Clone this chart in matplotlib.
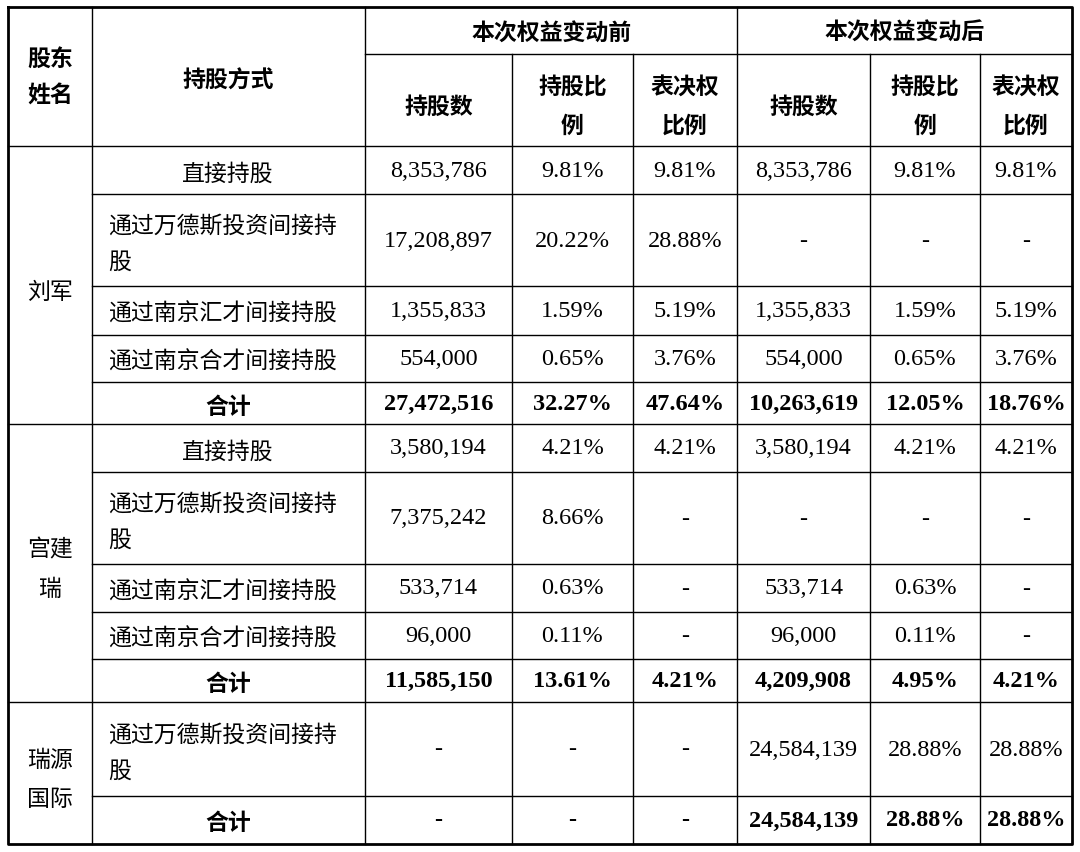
import matplotlib.pyplot as plt

plt.rcParams['font.family'] = ['Noto Sans CJK SC', 'DejaVu Sans']

W, H = 1080, 853
col_x = [8, 92, 365, 512, 633, 737, 870, 980, 1072]
head_y = [8, 55, 147]
row_y = [147, 195, 287, 336, 383, 425, 473, 565, 613, 660, 703, 797, 845]

holders = ["刘军", "宫建\n瑞", "瑞源\n国际"]
holder_rows = [(0, 5), (5, 10), (10, 12)]

methods = ["直接持股", "通过万德斯投资间接持\n股", "通过南京汇才间接持股", "通过南京合才间接持股", "合计",
           "直接持股", "通过万德斯投资间接持\n股", "通过南京汇才间接持股", "通过南京合才间接持股", "合计",
           "通过万德斯投资间接持\n股", "合计"]
before_shares = ["8,353,786", "17,208,897", "1,355,833", "554,000", "27,472,516",
                 "3,580,194", "7,375,242", "533,714", "96,000", "11,585,150", "-", "-"]
before_ratio = ["9.81%", "20.22%", "1.59%", "0.65%", "32.27%",
                "4.21%", "8.66%", "0.63%", "0.11%", "13.61%", "-", "-"]
before_vote = ["9.81%", "28.88%", "5.19%", "3.76%", "47.64%",
               "4.21%", "-", "-", "-", "4.21%", "-", "-"]
after_shares = ["8,353,786", "-", "1,355,833", "554,000", "10,263,619",
                "3,580,194", "-", "533,714", "96,000", "4,209,908", "24,584,139", "24,584,139"]
after_ratio = ["9.81%", "-", "1.59%", "0.65%", "12.05%",
               "4.21%", "-", "0.63%", "0.11%", "4.95%", "28.88%", "28.88%"]
after_vote = ["9.81%", "-", "5.19%", "3.76%", "18.76%",
              "4.21%", "-", "-", "-", "4.21%", "28.88%", "28.88%"]

fig = plt.figure(figsize=(W / 100, H / 100), dpi=100)
ax = fig.add_axes([0, 0, 1, 1])
ax.set_xlim(0, W)
ax.set_ylim(H, 0)
ax.axis('off')

thin, thick = 1.0, 2.0
L, R = col_x[0], col_x[-1]

# outer border
ax.plot([L, R, R, L, L], [head_y[0], head_y[0], row_y[-1], row_y[-1], head_y[0]], color='k', lw=thick)
# header lines
ax.plot([col_x[2], R], [head_y[1]] * 2, color='k', lw=thin)
ax.plot([L, R], [head_y[2]] * 2, color='k', lw=thin)
for x in [col_x[1], col_x[2], col_x[5]]:
    ax.plot([x, x], [head_y[0], row_y[-1]], color='k', lw=thin)
for x in [col_x[3], col_x[4], col_x[6], col_x[7]]:
    ax.plot([x, x], [head_y[1], row_y[-1]], color='k', lw=thin)
# body horizontal lines
group_breaks = {row_y[5], row_y[10]}
for y in row_y[1:-1]:
    x0 = L if y in group_breaks else col_x[1]
    ax.plot([x0, R], [y, y], color='k', lw=thin)

fs = 16.5
cjk = ['Noto Sans CJK SC', 'DejaVu Sans']
num = 'Liberation Serif'

def cx(i):
    return (col_x[i] + col_x[i + 1]) / 2

# header text
ax.text(cx(0), (head_y[0] + head_y[2]) / 2, "股东\n姓名", ha='center', va='center', fontsize=fs,
        fontweight='bold', family=cjk, linespacing=1.7)
ax.text(cx(1), (head_y[0] + head_y[2]) / 2 + 4, "持股方式", ha='center', va='center', fontsize=fs,
        fontweight='bold', family=cjk)
ax.text((col_x[2] + col_x[5]) / 2, (head_y[0] + head_y[1]) / 2 + 2, "本次权益变动前", ha='center', va='center',
        fontsize=fs, fontweight='bold', family=cjk)
ax.text((col_x[5] + col_x[8]) / 2, (head_y[0] + head_y[1]) / 2 + 2, "本次权益变动后", ha='center', va='center',
        fontsize=fs, fontweight='bold', family=cjk)
sub = ["持股数", "持股比\n例", "表决权\n比例"]
for k, lab in enumerate(sub * 2):
    ax.text(cx(2 + k), (head_y[1] + head_y[2]) / 2 + 6, lab, ha='center', va='center', fontsize=fs,
            fontweight='bold', family=cjk, linespacing=1.9)

# holder names
for name, (a, b) in zip(holders, holder_rows):
    ax.text(cx(0), (row_y[a] + row_y[b]) / 2 + 6, name, ha='center', va='center', fontsize=fs,
            family=cjk, linespacing=1.9)

cols = [before_shares, before_ratio, before_vote, after_shares, after_ratio, after_vote]
for r, m in enumerate(methods):
    yc = (row_y[r] + row_y[r + 1]) / 2
    bold = m == "合计"
    if bold:
        ax.text(228, yc + 3, m, ha='center', va='center', fontsize=fs, fontweight='bold', family=cjk)
    elif "\n" in m:
        ax.text(108, yc + 3, m, ha='left', va='center', fontsize=fs, family=cjk, linespacing=1.75)
    elif m == "直接持股":
        ax.text(228, yc + 3, m, ha='center', va='center', fontsize=fs, family=cjk)
    else:
        ax.text(108, yc + 3, m, ha='left', va='center', fontsize=fs, family=cjk)
    for k, vals in enumerate(cols):
        ax.text(cx(2 + k), yc, vals[r], ha='center', va='center', fontsize=fs + 1,
                fontweight='bold' if bold else 'normal', family=num)

fig.savefig("out.png", dpi=100)
